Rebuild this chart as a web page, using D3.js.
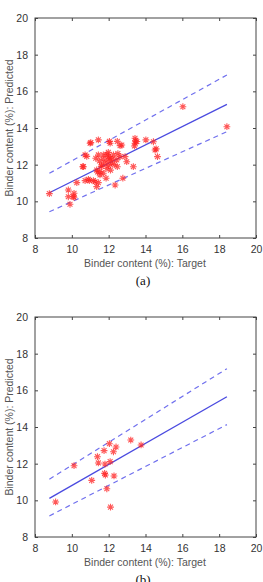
<!DOCTYPE html>
<html>
<head>
<meta charset="utf-8">
<script src="https://cdn.jsdelivr.net/npm/d3@7"></script>
<style>
  body { margin: 0; background: #fff; }
  svg { display: block; }
</style>
</head>
<body>
<div id="chart"></div>
<script>
// ticks shared by both panels
var xTicks = [8, 10, 12, 14, 16, 18, 20]
var yTicks = [8, 10, 12, 14, 16, 18, 20]

// panel (a): target vs predicted
var targetA = [16.03, 18.42, 11.03, 11.44, 12.04, 12.47, 12.62, 13.43, 13.43, 13.40, 13.46, 14.02, 14.43, 14.58,
  8.78, 9.81, 9.81, 9.9, 10.12, 10.12, 10.27, 10.63, 10.72, 10.81, 10.72, 10.99, 10.95, 11.17, 11.35, 11.44,
  11.35, 11.44, 11.53, 11.62, 11.71, 11.71, 11.86, 11.9, 11.98, 12.08, 12.08, 12.26, 12.44, 12.47, 12.35,
  12.62, 12.71, 12.77, 12.89, 12.98, 13.34, 13.53, 14.52, 14.65, 10.59, 10.9, 11.26, 11.53, 10.08,
  11.5, 11.8, 12.0, 12.2, 11.6, 11.9, 12.3, 11.4, 12.1, 12.5, 11.7, 12.0, 11.3, 11.95, 12.15]
var predA = [15.16, 14.07, 13.2, 13.35, 13.27, 13.27, 13.04, 13.44, 13.17, 13.02, 13.3, 13.35, 13.25, 12.86,
  10.42, 10.62, 10.25, 9.84, 10.44, 10.22, 11.02, 11.89, 12.53, 12.45, 11.13, 13.17, 11.13, 11.13, 11.71, 12.53,
  10.8, 11.02, 11.44, 11.98, 12.53, 11.53, 11.26, 11.8, 12.67, 12.35, 13.17, 12.53, 12.26, 11.89, 10.89,
  12.44, 13.07, 11.26, 12.44, 12.16, 11.89, 13.26, 12.8, 12.44, 11.89, 11.2, 11.07, 11.62, 10.26,
  12.2, 12.1, 12.45, 12.3, 11.9, 12.55, 12.0, 11.6, 11.7, 12.6, 12.3, 11.95, 12.35, 12.25, 12.1]
// fit line and prediction band (a), at start/end targets
var lineXA = [8.78, 18.42]
var fitA = [10.47, 15.29]
var upperA = [11.53, 16.89]
var lowerA = [9.43, 13.8]

// panel (b)
var targetB = [13.2, 13.76, 12.04, 12.4, 12.26, 11.75, 11.39, 11.44, 11.8, 12.08, 10.12, 11.78, 11.82,
  12.29, 11.08, 11.9, 9.12, 12.1]
var predB = [13.29, 13.02, 13.09, 12.91, 12.65, 12.71, 12.38, 12.04, 11.98, 12.11, 11.89, 11.47, 11.38,
  11.33, 11.09, 10.63, 9.91, 9.63]
var lineXB = [8.78, 18.42]
var fitB = [10.11, 15.65]
var upperB = [11.15, 17.18]
var lowerB = [9.15, 14.13]

var W = 263, H = 582
var svg = d3.select("#chart").append("svg").attr("width", W).attr("height", H)

// MATLAB-like '*' marker (plus + cross)
var star = {
  draw: function (ctx, size) {
    var r = Math.sqrt(size) / 2, d = r * 0.72
    ctx.moveTo(-r, 0); ctx.lineTo(r, 0)
    ctx.moveTo(0, -r); ctx.lineTo(0, r)
    ctx.moveTo(-d, -d); ctx.lineTo(d, d)
    ctx.moveTo(-d, d); ctx.lineTo(d, -d)
  }
}

function panel(top, tx, py, lx, fit, up, lo, caption) {
  var x = d3.scaleLinear().domain([8, 20]).range([35, 256])
  var y = d3.scaleLinear().domain([8, 20]).range([top + 220, top])
  var g = svg.append("g")

  // frame
  g.append("rect").attr("x", 35).attr("y", top).attr("width", 221).attr("height", 220)
    .attr("fill", "none").attr("stroke", "#444").attr("stroke-width", 1)

  // axes with inside ticks
  var fmt = d3.format("d")
  g.append("g").attr("transform", "translate(0," + (top + 220) + ")")
    .call(d3.axisBottom(x).tickValues(xTicks).tickFormat(fmt).tickSizeInner(-3).tickSizeOuter(0).tickPadding(8))
  g.append("g").attr("transform", "translate(0," + top + ")")
    .call(d3.axisTop(x).tickValues(xTicks).tickFormat("").tickSizeInner(-3).tickSizeOuter(0))
  g.append("g").attr("transform", "translate(35,0)")
    .call(d3.axisLeft(y).tickValues(yTicks).tickFormat(fmt).tickSizeInner(-3).tickSizeOuter(0).tickPadding(7))
  g.append("g").attr("transform", "translate(256,0)")
    .call(d3.axisRight(y).tickValues(yTicks).tickFormat("").tickSizeInner(-3).tickSizeOuter(0))
  g.selectAll(".domain").remove()
  g.selectAll(".tick line").attr("stroke", "#444")
  g.selectAll(".tick text").attr("fill", "#333").style("font-family", "Liberation Sans, Arial, sans-serif").style("font-size", "10.5px")

  // lines
  var line = d3.line().x(function (d) { return x(d[0]) }).y(function (d) { return y(d[1]) })
  g.append("path").attr("d", line(d3.zip(lx, up))).attr("fill", "none")
    .attr("stroke", "#7070ee").attr("stroke-width", 1.2).attr("stroke-dasharray", "5,4")
  g.append("path").attr("d", line(d3.zip(lx, lo))).attr("fill", "none")
    .attr("stroke", "#7070ee").attr("stroke-width", 1.2).attr("stroke-dasharray", "5,4")
  g.append("path").attr("d", line(d3.zip(lx, fit))).attr("fill", "none")
    .attr("stroke", "#4a4ae0").attr("stroke-width", 1.3)

  // markers
  var sym = d3.symbol().type(star).size(46)
  g.selectAll("path.pt").data(d3.zip(tx, py)).enter().append("path")
    .attr("class", "pt")
    .attr("d", sym)
    .attr("transform", function (d) { return "translate(" + x(d[0]) + "," + y(d[1]) + ")" })
    .attr("fill", "none").attr("stroke", "#ff2020").attr("stroke-width", 1.1).attr("opacity", 0.75)

  // labels
  g.append("text").attr("x", 145).attr("y", top + 249)
    .attr("text-anchor", "middle").attr("fill", "#555")
    .style("font-family", "Liberation Sans, Arial, sans-serif").style("font-size", "10.5px")
    .text("Binder content (%): Target")
  g.append("text").attr("transform", "translate(13," + (top + 110) + ") rotate(-90)")
    .attr("text-anchor", "middle").attr("fill", "#555")
    .style("font-family", "Liberation Sans, Arial, sans-serif").style("font-size", "10.5px")
    .text("Binder content (%): Predicted")
  g.append("text").attr("x", 143).attr("y", top + 267)
    .attr("text-anchor", "middle").attr("fill", "#111")
    .style("font-family", "Liberation Serif, Times New Roman, serif").style("font-size", "13px")
    .text(caption)
}

panel(18, targetA, predA, lineXA, fitA, upperA, lowerA, "(a)")
panel(317, targetB, predB, lineXB, fitB, upperB, lowerB, "(b)")
</script>
</body>
</html>
